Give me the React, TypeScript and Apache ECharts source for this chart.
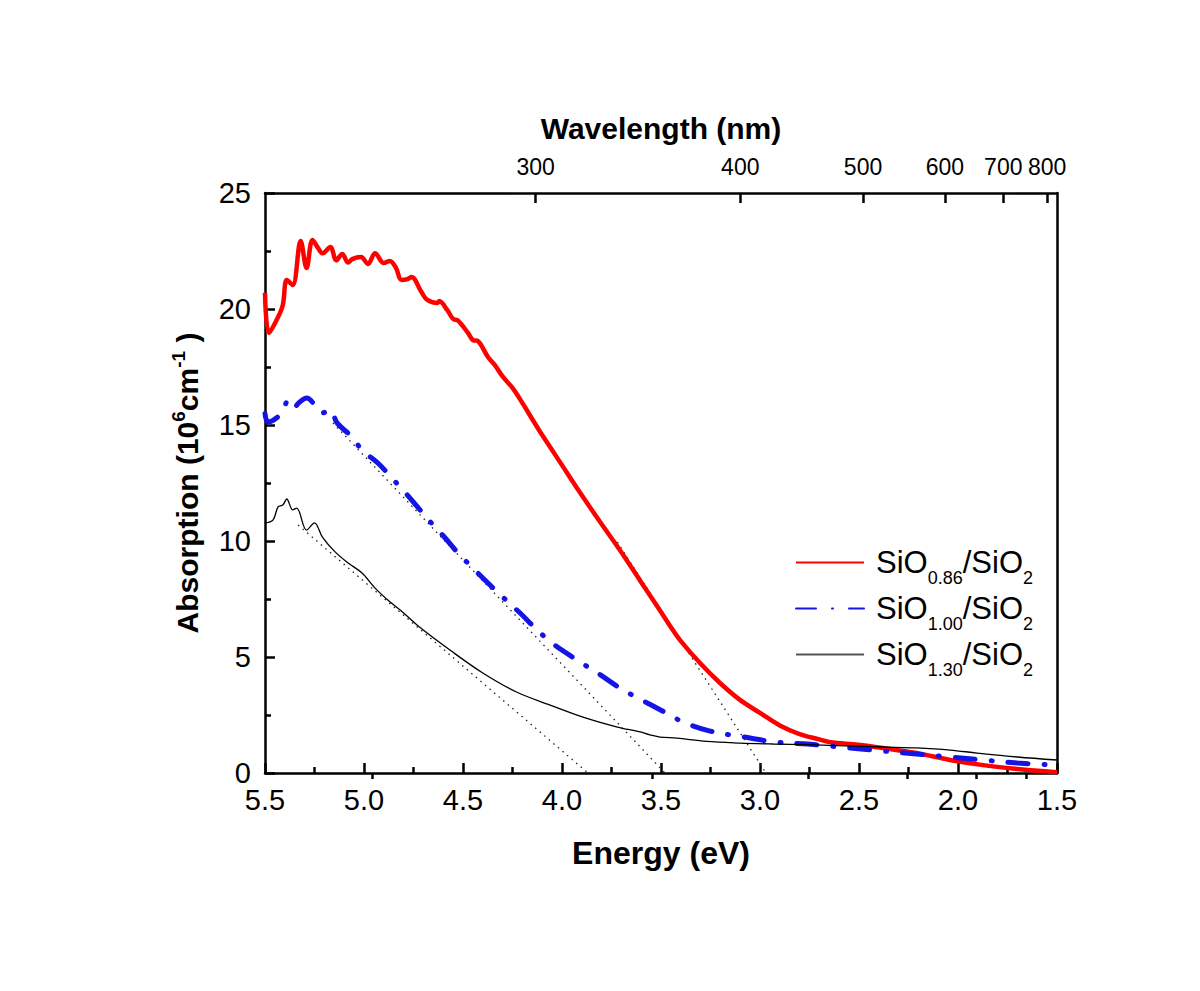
import React, { useEffect, useRef } from "react";
import * as echarts from "echarts";

const FONT = '"Liberation Sans", Arial, Helvetica, sans-serif';

// Energy (eV) vs absorption (10^6 cm^-1)
const redData: [number, number][] = [
  [5.5, 20.7], [5.48, 18.97], [5.434, 19.65], [5.41, 20.17], [5.39, 21.25], [5.36, 21.03],
  [5.32, 22.93], [5.29, 21.77], [5.26, 22.97], [5.23, 22.6], [5.21, 22.4], [5.17, 22.67],
  [5.14, 22.1], [5.11, 22.37], [5.08, 22.0], [5.06, 22.15], [5.015, 22.24], [4.98, 21.94],
  [4.944, 22.4], [4.9, 21.98], [4.87, 22.07], [4.84, 21.8], [4.81, 21.25], [4.78, 21.29],
  [4.76, 21.38], [4.71, 20.73], [4.68, 20.39], [4.63, 20.26], [4.62, 20.34], [4.58, 19.96],
  [4.55, 19.57], [4.525, 19.5], [4.475, 18.97], [4.45, 18.66], [4.425, 18.62], [4.374, 17.93],
  [4.34, 17.59], [4.298, 17.07], [4.25, 16.6], [4.2, 15.95], [4.15, 15.25], [4.11, 14.7],
  [4.01, 13.4], [3.91, 12.1], [3.81, 10.85], [3.707, 9.6], [3.606, 8.3], [3.505, 7.0],
  [3.455, 6.35], [3.404, 5.73], [3.303, 4.74], [3.202, 3.88], [3.101, 3.15], [3.0, 2.59],
  [2.9, 2.05], [2.8, 1.68], [2.7, 1.45], [2.646, 1.33], [2.505, 1.22], [2.38, 1.08],
  [2.21, 0.86], [2.04, 0.56], [1.874, 0.34], [1.7, 0.17], [1.5, 0.03],
];

const blueData: [number, number][] = [
  [5.5, 15.5], [5.485, 15.13], [5.42, 15.47], [5.38, 16.08], [5.35, 15.78], [5.33, 15.95],
  [5.29, 16.16], [5.24, 15.78], [5.21, 15.52], [5.17, 15.65], [5.136, 15.09], [5.06, 14.48],
  [5.01, 13.92], [4.93, 13.36], [4.86, 12.72], [4.79, 12.07], [4.73, 11.47], [4.66, 10.78],
  [4.59, 10.13], [4.525, 9.48], [4.44, 8.75], [4.374, 8.19], [4.3, 7.59], [4.2, 6.8],
  [4.16, 6.45], [4.05, 5.6], [3.924, 4.87], [3.81, 4.25], [3.707, 3.66], [3.6, 3.15],
  [3.54, 2.89], [3.455, 2.5], [3.39, 2.2], [3.27, 1.85], [3.15, 1.64], [3.05, 1.51],
  [2.934, 1.34], [2.76, 1.25], [2.71, 1.21], [2.545, 1.08], [2.38, 0.95], [2.21, 0.82],
  [2.04, 0.69], [1.874, 0.56], [1.7, 0.43], [1.5, 0.34],
];

const blackData: [number, number][] = [
  [5.5, 10.78], [5.46, 10.9], [5.434, 11.47], [5.41, 11.55], [5.39, 11.81], [5.36, 11.34],
  [5.34, 11.42], [5.29, 10.47], [5.25, 10.78], [5.21, 10.17], [5.146, 9.53], [5.08, 9.05],
  [5.01, 8.62], [4.944, 7.97], [4.88, 7.46], [4.8, 6.9], [4.72, 6.29], [4.566, 5.3],
  [4.4, 4.31], [4.23, 3.49], [4.06, 2.93], [3.894, 2.41], [3.72, 1.98], [3.606, 1.77],
  [3.556, 1.64], [3.505, 1.55], [3.42, 1.5], [3.27, 1.36], [3.1, 1.29], [2.934, 1.25],
  [2.76, 1.22], [2.38, 1.12], [2.21, 1.08], [2.04, 0.99], [1.904, 0.86], [1.7, 0.69],
  [1.5, 0.56],
];

// Linear fits (dotted tangent lines)
const redFit: [number, number][] = [[3.72, 9.95], [2.97, 0]];
const blueFit: [number, number][] = [[5.157, 15.09], [3.48, 0]];
const blackFit: [number, number][] = [[5.333, 10.69], [3.869, 0]];

const seriesNames = ["SiO0.86/SiO2", "SiO1.00/SiO2", "SiO1.30/SiO2"];
const seriesSubs = ["0.86", "1.00", "1.30"];

const energyTicks = [1.5, 2.0, 2.5, 3.0, 3.5, 4.0, 4.5, 5.0, 5.5];
const absTicks = [0, 5, 10, 15, 20, 25];
const wavelengthMajor = [300, 400, 500, 600, 700, 800];
const wavelengthMinor = [250, 350, 450, 550, 650, 750];
const HC = 1239.84;

export default function App() {
  const ref = useRef<HTMLDivElement>(null);

  useEffect(() => {
    if (!ref.current) return;
    const chart = echarts.init(ref.current, null, { renderer: "svg" });
    const axisLine = { show: true, onZero: false, lineStyle: { color: "#000", width: 2.5 } };
    const fitStyle = { color: "#222", width: 1.3, type: [1.5, 4.5] as number[] };

    const option: any = {
      animation: false,
      backgroundColor: "#fff",
      grid: { left: 265, right: 143, top: 193, bottom: 218, containLabel: false, outerBoundsMode: "none" },
      legend: {
        orient: "vertical",
        left: 790,
        top: 542,
        itemWidth: 68,
        itemHeight: 14,
        itemGap: 6,
        itemStyle: { opacity: 0, color: "transparent", borderWidth: 0 },
        data: [
          { name: seriesNames[0] },
          { name: seriesNames[1] },
          { name: seriesNames[2], lineStyle: { color: "#555", width: 2 } },
        ],
        formatter: (name: string) => {
          const i = seriesNames.indexOf(name);
          return `{g|}{m|SiO}{s|${seriesSubs[i]}}{m|/SiO}{s|2}`;
        },
        textStyle: {
          fontFamily: FONT,
          color: "#000",
          rich: {
            g: { width: 7 },
            m: { fontSize: 31, fontFamily: FONT, color: "#000", padding: [9, 0, 9, 0], verticalAlign: "bottom" },
            s: { fontSize: 18, fontFamily: FONT, color: "#000", verticalAlign: "bottom" },
          },
        },
      },
      xAxis: [
        {
          type: "value",
          min: energyTicks[0],
          max: energyTicks[energyTicks.length - 1],
          interval: 0.5,
          inverse: true,
          position: "bottom",
          name: "Energy (eV)",
          nameLocation: "middle",
          nameGap: 64,
          nameTextStyle: { fontFamily: FONT, fontSize: 32, fontWeight: "bold", color: "#000" },
          axisLine,
          axisTick: { show: true, inside: true, length: 10, lineStyle: { color: "#000", width: 2.5 } },
          minorTick: { show: true, splitNumber: 2, length: 6, lineStyle: { color: "#000", width: 2.5 } },
          axisLabel: {
            fontFamily: FONT, fontSize: 29, color: "#000", margin: 12,
            formatter: (v: number) => v.toFixed(1),
          },
          splitLine: { show: false },
        },
        {
          type: "value",
          min: energyTicks[0],
          max: energyTicks[energyTicks.length - 1],
          inverse: true,
          position: "top",
          name: "Wavelength (nm)",
          nameLocation: "middle",
          nameGap: 50,
          nameTextStyle: { fontFamily: FONT, fontSize: 30, fontWeight: "bold", color: "#000" },
          axisLine,
          axisTick: {
            show: true, inside: true, length: 10,
            customValues: wavelengthMajor.map((l) => HC / l),
            lineStyle: { color: "#000", width: 2.5 },
          },
          axisLabel: {
            fontFamily: FONT, fontSize: 23, color: "#000", margin: 15,
            customValues: wavelengthMajor.map((l) => HC / l),
            formatter: (v: number) => String(Math.round(HC / v)),
          },
          splitLine: { show: false },
        },
        {
          type: "value",
          min: energyTicks[0],
          max: energyTicks[energyTicks.length - 1],
          inverse: true,
          position: "top",
          axisLine: { show: false },
          axisTick: {
            show: true, inside: true, length: 6,
            customValues: wavelengthMinor.map((l) => HC / l),
            lineStyle: { color: "#000", width: 2.5 },
          },
          axisLabel: { show: false },
          splitLine: { show: false },
        },
      ],
      yAxis: [
        {
          type: "value",
          min: absTicks[0],
          max: absTicks[absTicks.length - 1],
          interval: 5,
          position: "left",
          name: "{t|Absorption (10}{p|6}{t|cm}{p|-1}{t| )}",
          nameLocation: "middle",
          nameRotate: 90,
          nameGap: 63,
          nameTextStyle: {
            fontFamily: FONT, fontWeight: "bold", color: "#000",
            rich: {
              t: { fontSize: 30, fontFamily: FONT, fontWeight: "bold", color: "#000", verticalAlign: "bottom" },
              p: { fontSize: 19, fontFamily: FONT, fontWeight: "bold", color: "#000", verticalAlign: "bottom", padding: [0, 0, 14, 0] },
            },
          },
          axisLine,
          axisTick: { show: true, inside: true, length: 10, lineStyle: { color: "#000", width: 2.5 } },
          minorTick: { show: true, splitNumber: 2, length: 6, lineStyle: { color: "#000", width: 2.5 } },
          axisLabel: { fontFamily: FONT, fontSize: 29, color: "#000", margin: 14 },
          splitLine: { show: false },
        },
        {
          type: "value",
          min: absTicks[0],
          max: absTicks[absTicks.length - 1],
          interval: 5,
          position: "right",
          axisLine,
          axisTick: { show: false },
          axisLabel: { show: false },
          splitLine: { show: false },
        },
      ],
      series: [
        { type: "line", data: redFit, showSymbol: false, silent: true, lineStyle: fitStyle, z: 1 },
        { type: "line", data: blueFit, showSymbol: false, silent: true, lineStyle: fitStyle, z: 1 },
        { type: "line", data: blackFit, showSymbol: false, silent: true, lineStyle: fitStyle, z: 1 },
        {
          name: seriesNames[0], type: "line", data: redData, showSymbol: false, symbol: "none", z: 3,
          smooth: 0.35,
          itemStyle: { color: "#ff0000" },
          lineStyle: { color: "#ff0000", width: 4.5 },
        },
        {
          name: seriesNames[1], type: "line", data: blueData, showSymbol: false, symbol: "none", z: 4,
          smooth: 0.35,
          itemStyle: { color: "#1414e6" },
          lineStyle: { color: "#1414e6", width: 5, type: [20, 16, 1, 16], cap: "round" },
        },
        {
          name: seriesNames[2], type: "line", data: blackData, showSymbol: false, symbol: "none", z: 5,
          smooth: 0.35,
          itemStyle: { color: "#000" },
          lineStyle: { color: "#000", width: 1.3 },
        },
      ],
    };
    chart.setOption(option);
    return () => chart.dispose();
  }, []);

  return (
    <div
      ref={ref}
      style={{ position: "absolute", left: 0, top: 0, width: 1200, height: 991, background: "#fff" }}
    />
  );
}
